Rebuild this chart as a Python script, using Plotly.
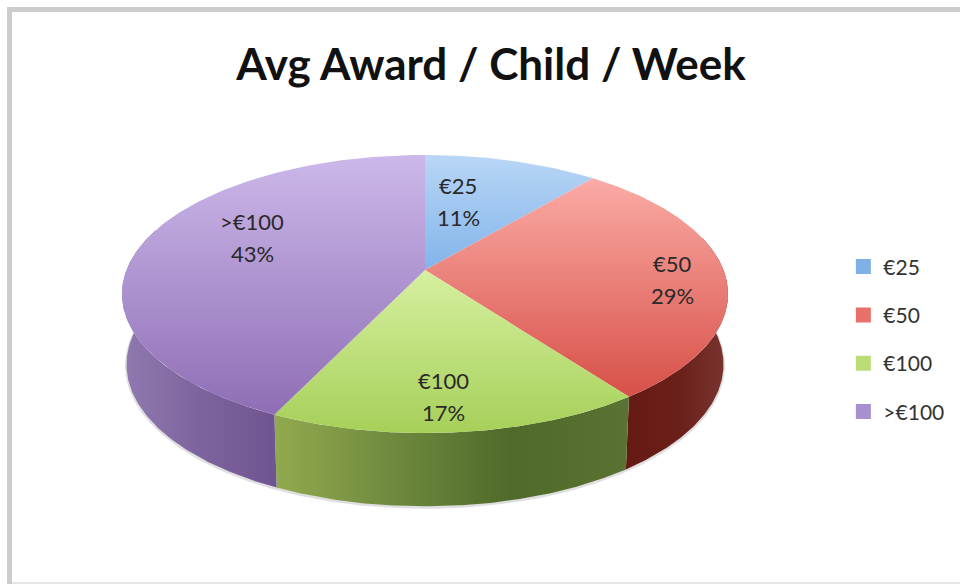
import numpy as np
import plotly.graph_objects as go

categories = ["€25", "€50", "€100", ">€100"]
percent_values = [11, 29, 17, 43]
chart_title = "Avg Award / Child / Week"

# styling (separate from the data)
FONT = "Lato, 'Open Sans', sans-serif"
LEGEND_COLORS = ["#7fb0e6", "#e8706a", "#bcdc78", "#a88fd0"]
TOP_GRADIENTS = [
    ("#b9d6f6", "#82b4ea", 155, 270),
    ("#fbaaa5", "#d64f46", 180, 400),
    ("#d6f0a0", "#a6cf58", 270, 435),
    ("#ccb8ea", "#8e6db4", 155, 417),
]
SIDE_GRADIENTS = [
    None,
    ["#651a14", "#6a1f19", "#7a3530"],
    ["#92aa4e", "#6f8a3e", "#4f6a2a", "#5a7232"],
    ["#9079b0", "#7e649e", "#6f5491"],
]
LABEL_POS = [(458, 201), (672, 279), (443, 396), (252, 237)]
LABEL_GAP = 16

APEX_X, APEX_Y = 425, 270
K, A, B = 0.1727, 134.9, 298.5
SIDE_X, SIDE_Y, SIDE_D = 0.985, 1.02, 70
# only the part of each wall that faces the viewer is drawn
WALL_SPAN = [None, (0.42, None), (None, None), (None, 1.6)]


def rim(a, bottom=False):
    den = 1 + K * np.cos(a)
    x = B * np.sin(a) / den
    y = A * np.cos(a) / den
    if bottom:
        x, y = x * SIDE_X, y * SIDE_Y - SIDE_D
    return APEX_X + x, APEX_Y - y


def scale(cols):
    return [[i / (len(cols) - 1), c] for i, c in enumerate(cols)]


edges = np.cumsum([0] + percent_values) / sum(percent_values) * 2 * np.pi
fig = go.Figure()

# soft shadow below the wall
shadow_a = np.linspace(0.46 * np.pi, 1.56 * np.pi, 300)
sx, sy = rim(shadow_a, bottom=True)
fig.add_trace(go.Scatter(x=sx, y=sy + 1, mode="lines", showlegend=False, hoverinfo="skip",
                         line=dict(width=3, color="rgba(110,110,110,0.22)")))

# side walls
for i, grad in enumerate(SIDE_GRADIENTS):
    if grad is None:
        continue
    lo, hi = WALL_SPAN[i]
    a0 = edges[i] if lo is None else max(edges[i], lo * np.pi)
    a1 = edges[i + 1] if hi is None else min(edges[i + 1], hi * np.pi)
    a = np.linspace(a0, a1, 160)
    tx, ty = rim(a)
    bx, by = rim(a[::-1], bottom=True)
    x = np.r_[tx, bx, tx[0]]
    y = np.r_[ty, by, ty[0]]
    fig.add_trace(go.Scatter(
        x=x, y=y, mode="lines", line=dict(width=0), fill="toself", showlegend=False,
        hoverinfo="skip",
        fillgradient=dict(type="horizontal", colorscale=scale(grad),
                          start=float(x.min()), stop=float(x.max())),
    ))

# top faces
for i, (c0, c1, y0, y1) in enumerate(TOP_GRADIENTS):
    a = np.linspace(edges[i], edges[i + 1], 160)
    tx, ty = rim(a)
    x = np.r_[APEX_X, tx, APEX_X]
    y = np.r_[APEX_Y, ty, APEX_Y]
    fig.add_trace(go.Scatter(
        x=x, y=y, mode="lines", line=dict(width=0), fill="toself", showlegend=False,
        hoverinfo="skip",
        fillgradient=dict(type="vertical", colorscale=[[0, c0], [1, c1]], start=y0, stop=y1),
    ))

# legend entries
for i, name in enumerate(categories):
    fig.add_trace(go.Scatter(
        x=[None], y=[None], mode="markers", name=name, legendgroup=name,
        marker=dict(symbol="square", size=15, color=LEGEND_COLORS[i]),
    ))

annotations = []
for (px, py), name, val in zip(LABEL_POS, categories, percent_values):
    for text, off in ((name, -LABEL_GAP), (f"{val}%", LABEL_GAP)):
        annotations.append(dict(x=px, y=py + off, xref="x", yref="y", showarrow=False, text=text,
                                font=dict(family=FONT, size=22, color="#2a2a2a")))

frame = "#cccccc"
fig.update_layout(
    width=960, height=584, margin=dict(l=0, r=0, t=0, b=0),
    paper_bgcolor="white", plot_bgcolor="white",
    title=dict(text=f"<b>{chart_title}</b>", x=491 / 960, xanchor="center", y=0.889, yanchor="middle",
               font=dict(family=FONT, size=44, color="#111111")),
    xaxis=dict(range=[0, 960], visible=False, fixedrange=True),
    yaxis=dict(range=[584, 0], visible=False, fixedrange=True),
    legend=dict(x=0.8785, y=0.578, xanchor="left", yanchor="top", tracegroupgap=18,
                itemwidth=30, bgcolor="rgba(0,0,0,0)",
                font=dict(family=FONT, size=21, color="#333333")),
    annotations=annotations,
    shapes=[
        dict(type="rect", xref="paper", yref="paper", x0=7 / 960, x1=12 / 960, y0=0, y1=1 - 7 / 584,
             fillcolor=frame, line_width=0, layer="above"),
        dict(type="rect", xref="paper", yref="paper", x0=7 / 960, x1=1, y0=1 - 12 / 584, y1=1 - 7 / 584,
             fillcolor=frame, line_width=0, layer="above"),
        dict(type="rect", xref="paper", yref="paper", x0=12 / 960, x1=1, y0=0, y1=2 / 584,
             fillcolor="#e6e6e6", line_width=0, layer="above"),
    ],
)

fig.write_html("out.html", config=dict(displayModeBar=False),
               post_script="document.body.style.margin='0';document.body.style.overflow='hidden';")
